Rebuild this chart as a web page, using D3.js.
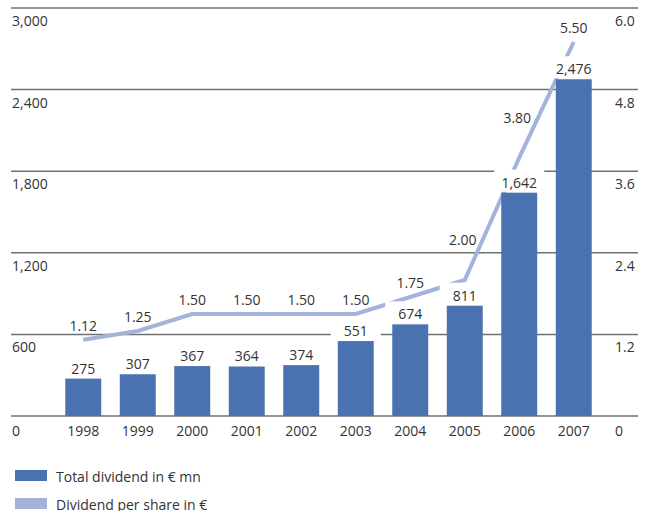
<!DOCTYPE html>
<html>
<head>
<meta charset="utf-8">
<script src="https://cdn.jsdelivr.net/npm/d3@7"></script>
<style>
    body { margin: 0; background: #fff; }
    svg { display: block; font-family: 'Open Sans', sans-serif; }
    .grid { stroke: #707070; stroke-width: 1.5; }
    .lbl { font-size: 14px; fill: #333; }
</style>
</head>
<body>
<svg class="chart"></svg>
<script>
const years = ['1998', '1999', '2000', '2001', '2002', '2003', '2004', '2005', '2006', '2007']
const totalDividend = [275, 307, 367, 364, 374, 551, 674, 811, 1642, 2476]
const perShare = [1.12, 1.25, 1.50, 1.50, 1.50, 1.50, 1.75, 2.00, 3.80, 5.50]
const leftTicks = [0, 600, 1200, 1800, 2400, 3000]
const rightTicks = [0, 1.2, 2.4, 3.6, 4.8, 6.0]
const legendLabels = ['Total dividend in € mn', 'Dividend per share in €']

const width = 645
const height = 511
const barColor = '#4a72b0'
const lineColor = '#a3b3da'

const svg = d3.select('.chart')
    .attr('width', width)
    .attr('height', height)

const x = d3.scaleBand()
    .domain(years)
    .range([56, 601])
    .paddingInner(0.34)
    .paddingOuter(0.17)

const yLeft = d3.scaleLinear().domain([0, 3000]).range([416, 8])
const yRight = d3.scaleLinear().domain([0, 6]).range([416, 8])

const cx = d => x(d) + x.bandwidth()/2

// gridlines
svg.selectAll('.grid')
    .data(leftTicks)
    .enter()
    .append('line')
    .attr('class', 'grid')
    .attr('x1', 11)
    .attr('x2', 638)
    .attr('y1', d => yLeft(d))
    .attr('y2', d => yLeft(d))

svg.selectAll('.lt')
    .data(leftTicks)
    .enter()
    .append('text')
    .attr('class', 'lbl')
    .attr('x', 12)
    .attr('y', d => yLeft(d) + (d === 0 ? 20 : 18))
    .text(d => d3.format(',')(d))

svg.selectAll('.rt')
    .data(rightTicks)
    .enter()
    .append('text')
    .attr('class', 'lbl')
    .attr('x', 615)
    .attr('y', d => yRight(d) + (d === 0 ? 20 : 18))
    .text(d => d === 0 ? '0' : d3.format('.1f')(d))

// labels on the line are lifted clear where the next segment climbs steeply
const steep = perShare.map((v, i) => i < perShare.length - 1 && perShare[i + 1] - v > 1)
const lineLabelY = perShare.map((v, i) => yRight(v) - (steep[i] ? 35 : 9))

svg.selectAll('.lbox')
    .data(years.filter((d, i) => steep[i]))
    .enter()
    .append('rect')
    .attr('x', d => cx(d) - 24)
    .attr('y', d => lineLabelY[years.indexOf(d)] - 14)
    .attr('width', 48)
    .attr('height', 21)
    .attr('fill', '#fff')

svg.append('path')
    .datum(perShare)
    .attr('fill', 'none')
    .attr('stroke', lineColor)
    .attr('stroke-width', 4)
    .attr('d', d3.line()
        .x((d, i) => cx(years[i]))
        .y(d => yRight(d)))

svg.selectAll('.bar')
    .data(totalDividend)
    .enter()
    .append('rect')
    .attr('x', (d, i) => x(years[i]))
    .attr('y', d => yLeft(d))
    .attr('width', x.bandwidth())
    .attr('height', d => yLeft(0) - yLeft(d))
    .attr('fill', barColor)

// bar value labels sit on white boxes that cut the grid and the line
svg.selectAll('.bbox')
    .data(totalDividend)
    .enter()
    .append('rect')
    .attr('x', (d, i) => cx(years[i]) - 25)
    .attr('y', d => yLeft(d) - 23)
    .attr('width', 50)
    .attr('height', 22)
    .attr('fill', '#fff')

svg.selectAll('.bv')
    .data(totalDividend)
    .enter()
    .append('text')
    .attr('class', 'lbl')
    .attr('text-anchor', 'middle')
    .attr('x', (d, i) => cx(years[i]))
    .attr('y', d => yLeft(d) - 5)
    .text(d => d3.format(',')(d))

svg.selectAll('.lv')
    .data(perShare)
    .enter()
    .append('text')
    .attr('class', 'lbl')
    .attr('text-anchor', 'middle')
    .attr('x', (d, i) => cx(years[i]) - (steep[i] ? 2 : 0))
    .attr('y', (d, i) => lineLabelY[i])
    .text(d => d3.format('.2f')(d))

svg.selectAll('.yr')
    .data(years)
    .enter()
    .append('text')
    .attr('class', 'lbl')
    .attr('text-anchor', 'middle')
    .attr('x', d => cx(d))
    .attr('y', 436)
    .text(d => d)

// legend
const legend = svg.selectAll('.leg')
    .data(legendLabels)
    .enter()
    .append('g')
    .attr('transform', (d, i) => `translate(15, ${470 + i*28})`)

legend.append('rect')
    .attr('width', 32)
    .attr('height', 11)
    .attr('fill', (d, i) => i === 0 ? barColor : lineColor)

legend.append('text')
    .attr('class', 'lbl')
    .attr('x', 41)
    .attr('y', 12)
    .text(d => d)
</script>
</body>
</html>
